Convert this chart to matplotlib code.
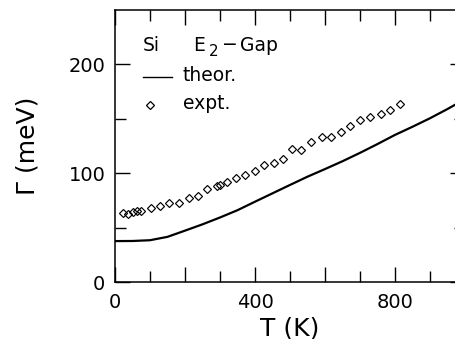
import numpy as np
import matplotlib
matplotlib.use("Agg")
import matplotlib.pyplot as plt

# theory curve
t_theor = [0, 50, 100, 150, 200, 250, 300, 350, 400, 450, 500, 550, 600, 650,
           700, 750, 800, 850, 900, 950, 1000]
g_theor = [37.6, 37.7, 38.4, 41.5, 47.2, 53, 59.3, 66, 73.8, 81.5, 89.2, 96.8,
           103.8, 111, 118.7, 126.8, 135.2, 142.7, 150.5, 159, 168]

# experimental points
t_expt = [22, 38, 51, 64, 74, 102, 129, 155, 182, 211, 238, 264, 290, 300, 320,
          346, 372, 400, 427, 453, 479, 505, 532, 561, 590, 618, 645, 672, 699,
          728, 759, 787, 815]
g_expt = [63, 62.2, 64.3, 65, 65.2, 68.3, 70, 72.8, 72.5, 77.5, 79.2, 85.9, 88.5,
          89.2, 92, 95.8, 98.8, 102.2, 107.3, 109.2, 113, 122.1, 121.4, 128.4,
          133, 133.2, 138.2, 143, 148.5, 151.6, 154.7, 157.8, 163.9]

x_ticks = [0, 200, 400, 600, 800, 1000]
x_labels = ['0', '', '400', '', '800', '']
y_ticks = [0, 100, 200]

plt.rcParams['font.family'] = 'DejaVu Sans'

fig = plt.figure(figsize=(4.55, 3.39), dpi=100)
ax = fig.add_axes([115/455, 1-282/339, 350/455, 272/339])

ax.plot(t_theor, g_theor, color='black', lw=1.6)
ax.plot(t_expt, g_expt, ls='none', marker='D', ms=3.8, mfc='none', mec='black', mew=0.85)

ax.set_xlim(0, 1000)
ax.set_ylim(0, 250)
ax.set_xticks(x_ticks, x_labels)
ax.set_xticks(np.arange(100, 1000, 200), minor=True)
ax.set_yticks(y_ticks)
ax.set_yticks([50, 150], minor=True)
ax.tick_params(which='both', direction='in', top=True, right=True, width=1, labelsize=14)
ax.tick_params(which='major', length=11)
ax.tick_params(which='minor', length=8)
ax.tick_params(axis='x', which='major', pad=8)
ax.tick_params(axis='y', which='major', pad=7)
for s in ax.spines.values():
    s.set_linewidth(1.1)

ax.set_xlabel('T (K)', fontsize=18, labelpad=3)
ax.set_ylabel('Γ (meV)', fontsize=18, labelpad=21)

fs = 13.5
ax.text(80, 217, 'Si', fontsize=fs, va='center')
ax.text(223, 217, 'E', fontsize=fs, va='center')
ax.text(268, 212, '2', fontsize=fs*0.8, va='center')
ax.text(306, 218, '−', fontsize=fs, va='center')
ax.text(358, 217, 'Gap', fontsize=fs, va='center')
ax.plot([80, 163], [188.5, 188.5], color='black', lw=1)
ax.text(194, 190, 'theor.', fontsize=fs, va='center')
ax.plot([100], [163], ls='none', marker='D', ms=3.8, mfc='none', mec='black', mew=0.9)
ax.text(194, 164, 'expt.', fontsize=fs, va='center')

fig.savefig('out.png', dpi=100)
